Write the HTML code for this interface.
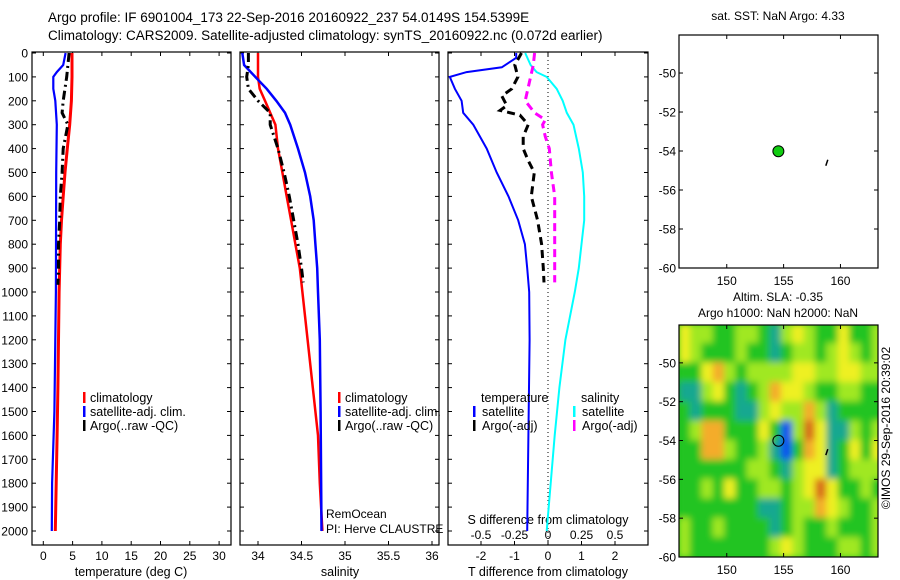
<!DOCTYPE html>
<html><head><meta charset="utf-8"><style>
body{margin:0;background:#fff;}
svg{display:block;font-family:"Liberation Sans",sans-serif;}
</style></head><body>
<svg id="chart" width="900" height="580" viewBox="0 0 900 580" xmlns="http://www.w3.org/2000/svg">
<text x="48" y="22" font-size="13.5">Argo profile: IF 6901004_173 22-Sep-2016 20160922_237 54.0149S 154.5399E</text>
<text x="48" y="40" font-size="13.5">Climatology: CARS2009. Satellite-adjusted climatology: synTS_20160922.nc (0.072d earlier)</text>
<g id="g"></g>
</svg>
<script>
// ---------- data ----------
const depthT = [0,100,200,300,400,500,600,700,800,900,1000,1200,1400,1600,1800,2000];
const tempClim = [4.9,4.9,4.8,4.5,4.1,3.7,3.4,3.1,2.9,2.8,2.7,2.6,2.5,2.35,2.2,2.05];
const depthSat = [0,50,80,100,150,200,300,500,1000,1500,1800,2000];
const tempSat = [3.8,3.4,2.3,1.7,1.7,2.05,2.3,2.2,2.15,1.9,1.5,1.45];
const depthArgo = [0,50,100,200,250,300,400,500,600,700,800,900,970];
const tempArgo = [4.4,4.2,4.0,3.4,3.2,4.2,3.4,3.2,2.9,2.8,2.6,2.6,2.5];
const depthS = [0,100,150,200,300,400,500,600,700,800,900,1000,1100,1200,1400,1600,1800,2000];
const salClim = [34.0,34.0,34.02,34.08,34.2,34.23,34.28,34.33,34.38,34.43,34.48,34.51,34.54,34.57,34.63,34.69,34.71,34.74];
const depthSS = [0,50,108,150,200,250,300,400,500,600,700,800,900,1000,1200,1500,2000];
const salSat = [33.82,33.84,33.99,34.1,34.21,34.31,34.37,34.46,34.54,34.6,34.64,34.66,34.68,34.69,34.71,34.72,34.73];
const depthSA = [0,50,100,150,200,250,300,400,500,600,700,800,900,960];
const salArgo = [33.89,33.89,33.87,33.89,34.0,34.14,34.14,34.23,34.3,34.36,34.41,34.46,34.5,34.52];
const depthDT = [0,20,60,80,100,150,200,250,300,400,500,600,700,800,900,1000,1200,2000];
const dTsat = [-0.95,-0.95,-1.38,-2.43,-2.93,-2.78,-2.58,-2.53,-2.23,-1.83,-1.53,-1.18,-0.89,-0.69,-0.62,-0.56,-0.55,-0.62];
const depthDA = [0,50,100,150,180,220,240,260,300,350,400,450,500,600,700,800,900,960];
const dTargo = [-0.79,-0.99,-0.9,-1.08,-1.38,-1.23,-1.43,-0.84,-0.59,-0.74,-0.74,-0.59,-0.41,-0.5,-0.31,-0.19,-0.14,-0.12];
const depthDS = [0,50,80,100,150,200,250,300,400,500,600,700,800,900,1000,1200,1400,1600,1800,2000];
const dSsat = [-0.17,-0.13,-0.085,-0.01,0.065,0.11,0.14,0.19,0.23,0.26,0.27,0.27,0.25,0.23,0.2,0.13,0.085,0.05,0.02,-0.01];
const depthDSA = [0,50,100,150,200,250,280,300,350,400,500,600,700,800,960];
const dSargo = [-0.1,-0.11,-0.13,-0.15,-0.17,-0.1,-0.02,-0.04,-0.02,0.01,0.025,0.05,0.05,0.05,0.05];
const depthTicks = [0,100,200,300,400,500,600,700,800,900,1000,1100,1200,1300,1400,1500,1600,1700,1800,1900,2000];
const tempTicks = [0,5,10,15,20,25,30];
const salTicks = [34,34.5,35,35.5,36];
const dTTicks = [-2,-1,0,1,2];
const dSTicks = [-0.5,-0.25,0,0.25,0.5];
const dSTickLabels = ["-0.5","-0.25","0","0.25","0.5"];
const lonTicks = [150,155,160];
const latTicks = [-50,-52,-54,-56,-58,-60];
const argoLon = [154.54]; const argoLat = [-54.01];
const otherLon = [158.8]; const otherLat = [-54.6];
const slaLons = [146.3,147.3,148.3,149.3,150.3,151.3,152.3,153.3,154.3,155.3,156.3,157.3,158.3,159.3,160.3,161.3,162.3,163.3];
const slaLats = [-48.5,-49.5,-50.5,-51.5,-52.5,-53.5,-54.5,-55.5,-56.5,-57.5,-58.5,-59.5];
const slaGrid = [
[4,3,3,2,2,3,3,2,1,3,4,3,2,2,4,2,2,3],
[4,3,2,2,2,3,2,2,1,2,3,3,2,3,4,3,2,3],
[2,2,4,5,3,2,3,3,3,3,4,4,3,3,4,4,3,3],
[1,1,3,4,2,1,2,3,5,4,4,3,2,2,3,3,2,2],
[2,1,2,2,2,1,1,3,4,3,3,5,3,1,2,2,2,2],
[2,3,5,5,2,2,2,4,2,0,3,6,4,1,1,3,2,3],
[2,2,5,5,3,2,2,3,1,0,2,5,4,1,2,4,2,4],
[2,2,2,2,2,2,3,3,2,1,3,4,4,1,2,3,3,3],
[2,2,3,2,4,2,2,3,3,2,3,4,6,4,2,2,3,2],
[2,2,2,2,2,2,2,1,1,2,3,3,5,4,3,2,2,3],
[3,2,2,3,2,2,2,2,1,2,3,2,2,3,2,2,2,3],
[3,2,2,2,2,2,2,2,3,4,3,2,2,2,3,3,2,3]];
const slaColors = ["#1050f0","#18a890","#22c422","#a0e820","#eef020","#f4ac2c","#d86a1c"];

// ---------- helpers ----------
const NS="http://www.w3.org/2000/svg";
const G=document.getElementById('g');
function mk(tag,attrs,parent){const e=document.createElementNS(NS,tag);for(const k in attrs)e.setAttribute(k,attrs[k]);(parent||G).appendChild(e);return e;}
function txt(x,y,s,size,anchor,name){const t=mk('text',{x:x,y:y,'font-size':size,'text-anchor':anchor||'start'});t.textContent=s;


return t;}
const yD = d => 53 + d*0.239;
const xT = v => 43.3 + v*5.86;
const xS = v => 258 + (v-34)*87;
const xDT = v => 548 + v*33.5;
const xDS = v => 548 + v*134;
function line(xs,ds,fx,color,w,dash,name){
  let p='';for(let i=0;i<xs.length;i++)p+=(i?'L':'M')+fx(xs[i]).toFixed(1)+' '+yD(ds[i]).toFixed(1);
  const e=mk('path',{d:p,fill:'none',stroke:color,'stroke-width':w});if(dash)e.setAttribute('stroke-dasharray',dash);
  
  
}
function frame(x0,x1,name){
  const r=mk('rect',{x:x0,y:52,width:x1-x0,height:493,fill:'none',stroke:'#000','stroke-width':1.2});
  
  
  depthTicks.forEach(d=>{mk('line',{x1:x0,x2:x0+4,y1:yD(d),y2:yD(d),stroke:'#000'});mk('line',{x1:x1,x2:x1-4,y1:yD(d),y2:yD(d),stroke:'#000'});});
}
// ---------- panel 1 ----------
frame(32,231,'temperature-panel');
depthTicks.forEach(d=>{txt(28,yD(d)+4.5,String(d),12,'end','depth-tick-label');});
tempTicks.forEach(v=>{mk('line',{x1:xT(v),x2:xT(v),y1:545,y2:541,stroke:'#000'});mk('line',{x1:xT(v),x2:xT(v),y1:52,y2:56,stroke:'#000'});txt(xT(v),560,String(v),12,'middle','temperature-tick-label');});
txt(131,576,'temperature (deg C)',12.5,'middle','x-axis-title-temperature');
line(tempClim,depthT,xT,'#f00',3,null,'temperature-climatology-line');
line(tempSat,depthSat,xT,'#00f',2.2,null,'temperature-satellite-line');
line(tempArgo,depthArgo,xT,'#000',3,'9 4 2 4','temperature-argo-line');
// ---------- panel 2 ----------
frame(240,439,'salinity-panel');
salTicks.forEach(v=>{mk('line',{x1:xS(v),x2:xS(v),y1:545,y2:541,stroke:'#000'});mk('line',{x1:xS(v),x2:xS(v),y1:52,y2:56,stroke:'#000'});txt(xS(v),560,String(v),12,'middle','salinity-tick-label');});
txt(340,576,'salinity',12.5,'middle','x-axis-title-salinity');
line(salClim,depthS,xS,'#f00',2.5,null,'salinity-climatology-line');
line(salSat,depthSS,xS,'#00f',2.5,null,'salinity-satellite-line');
line(salArgo,depthSA,xS,'#000',3,'9 4 2 4','salinity-argo-line');
txt(326,518,'RemOcean',12,'start','project-label');
txt(326,533,'PI: Herve CLAUSTRE',12,'start','pi-label');
// legends
[[83,90],[338,345]].forEach(p=>{
 [['#f00','climatology'],['#00f','satellite-adj. clim.'],['#000','Argo(..raw -QC)']].forEach((it,i)=>{
  const y=398+i*14;
  const m=mk('rect',{x:p[0],y:y-6,width:2.5,height:11,fill:it[0]});
  
  
  txt(p[1],y+4,it[1],12.5,'start','legend-entry');
 });
});
// ---------- panel 3 ----------
frame(448,648,'difference-panel');
dTTicks.forEach(v=>{mk('line',{x1:xDT(v),x2:xDT(v),y1:545,y2:541,stroke:'#000'});mk('line',{x1:xDT(v),x2:xDT(v),y1:52,y2:56,stroke:'#000'});txt(xDT(v),560,String(v),12,'middle','t-diff-tick-label');});
dSTicks.forEach((v,i)=>{txt(xDS(v),539,dSTickLabels[i],12,'middle','s-diff-tick-label');});
txt(548,524,'S difference from climatology',12.5,'middle','s-diff-axis-title');
txt(548,576,'T difference from climatology',12.5,'middle','x-axis-title-t-diff');
const z=mk('line',{x1:548,x2:548,y1:52,y2:545,stroke:'#000','stroke-dasharray':'1 3'});


line(dTsat,depthDT,xDT,'#00f',2,null,'t-diff-satellite-line');
line(dSsat,depthDS,xDS,'#0ff',2,null,'s-diff-satellite-line');
line(dTargo,depthDA,xDT,'#000',3,'8 5','t-diff-argo-line');
line(dSargo,depthDSA,xDS,'#f0f',3,'8 5','s-diff-argo-line');
txt(481,402,'temperature',12.5,'start','legend-header-temperature');
txt(581,402,'salinity',12.5,'start','legend-header-salinity');
[[473,482,'#00f','satellite',0],[473,482,'#000','Argo(-adj)',1],[573,582,'#0ff','satellite',0],[573,582,'#f0f','Argo(-adj)',1]].forEach(it=>{
 const y=412+it[4]*14;
 const m=mk('rect',{x:it[0],y:y-6,width:2.5,height:11,fill:it[2]});
 
 
 txt(it[1],y+4,it[3],12.5,'start','legend-entry');
});
// ---------- maps ----------
const xL = v => 679 + (v-145.8)*11.37;
function mapAxes(top,bottom,name){
  const yLat = v => top + (-48.05 - v)*(bottom-top)/11.95;
  const r=mk('rect',{x:679,y:top,width:199,height:bottom-top,fill:'none',stroke:'#000','stroke-width':1.2});
  
  
  lonTicks.forEach(v=>{mk('line',{x1:xL(v),x2:xL(v),y1:bottom,y2:bottom-4,stroke:'#000'});mk('line',{x1:xL(v),x2:xL(v),y1:top,y2:top+4,stroke:'#000'});txt(xL(v),bottom+17,String(v),12,'middle','longitude-tick-label');});
  latTicks.forEach(v=>{mk('line',{x1:679,x2:683,y1:yLat(v),y2:yLat(v),stroke:'#000'});mk('line',{x1:878,x2:874,y1:yLat(v),y2:yLat(v),stroke:'#000'});txt(676,yLat(v)+4.5,String(v),12,'end','latitude-tick-label');});
  return yLat;
}
// map 1
const yL1 = mapAxes(35,268,'sst-map');
txt(778,20,'sat. SST: NaN Argo: 4.33',12,'middle','sst-map-title');
argoLon.forEach((v,i)=>{const c=mk('circle',{cx:xL(v),cy:yL1(argoLat[i]),r:5.5,fill:'#1c1',stroke:'#000','stroke-width':1});

});
otherLon.forEach((v,i)=>{const c=mk('path',{d:`M${xL(v)-1} ${yL1(otherLat[i])+3}L${xL(v)+1} ${yL1(otherLat[i])-3}`,stroke:'#000','stroke-width':1.5});

});
// map 2 heatmap
const defs=mk('defs',{});
const cp=mk('clipPath',{id:'mc'},defs);mk('rect',{x:679,y:325,width:199,height:232},cp);
const fl=mk('filter',{id:'bl',x:'-10%',y:'-10%',width:'120%',height:'120%'},defs);mk('feGaussianBlur',{stdDeviation:3.5},fl);
const clipG=mk('g',{'clip-path':'url(#mc)'});


mk('rect',{x:679,y:325,width:199,height:232,fill:slaColors[2]},clipG);
const hg=mk('g',{filter:'url(#bl)'},clipG);
const yL2tmp = v => 325 + (-48.05 - v)*232/11.95;
const cw=11.37, ch=232/11.95;
slaGrid.forEach((row,ri)=>row.forEach((val,ci)=>{
  const c=mk('rect',{x:(xL(slaLons[ci])-cw/2-0.5).toFixed(1),y:(yL2tmp(slaLats[ri])-ch/2-0.5).toFixed(1),width:(cw+1).toFixed(1),height:(ch+1).toFixed(1),fill:slaColors[val]},hg);
  
  
}));
const yL2 = mapAxes(325,557,'sla-map');
txt(778,301,'Altim. SLA: -0.35',12,'middle','sla-map-title');
txt(778,317,'Argo h1000: NaN h2000: NaN',12,'middle','sla-map-subtitle');
argoLon.forEach((v,i)=>{const c=mk('circle',{cx:xL(v),cy:yL2(argoLat[i]),r:5.5,fill:'none',stroke:'#000','stroke-width':1});

});
otherLon.forEach((v,i)=>{const c=mk('path',{d:`M${xL(v)-1} ${yL2(otherLat[i])+3}L${xL(v)+1} ${yL2(otherLat[i])-3}`,stroke:'#000','stroke-width':1.5});

});
const cr=txt(0,0,'©IMOS 29-Sep-2016 20:39:02',12,'middle','copyright-label');
cr.setAttribute('transform','translate(890,428) rotate(-90)');
</script>
</body></html>
